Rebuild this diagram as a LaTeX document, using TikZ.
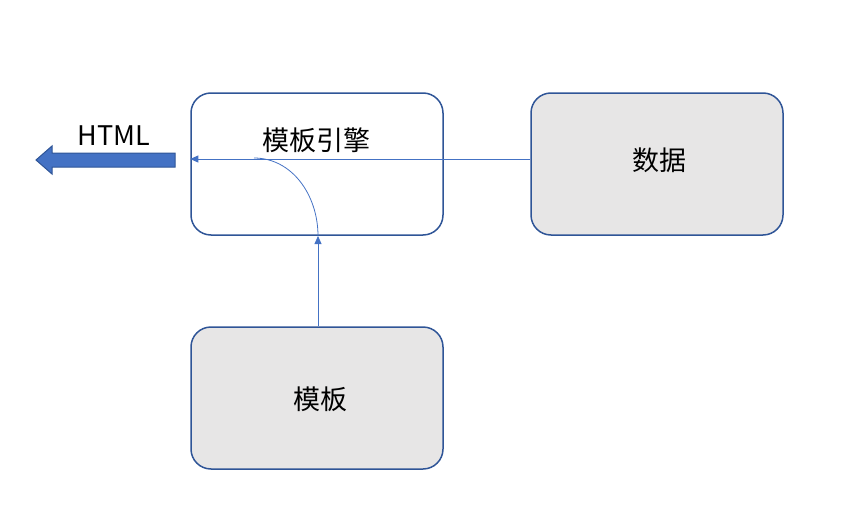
\documentclass[tikz,border=0pt]{standalone}
\usepackage{fontspec}
\setmainfont{Noto Sans CJK SC}
\usetikzlibrary{arrows.meta}
\definecolor{bordc}{HTML}{2F5597}
\definecolor{fillc}{HTML}{E7E6E6}
\definecolor{linec}{HTML}{4472C4}
\begin{document}
\begin{tikzpicture}[x=1pt,y=-1pt,
  box/.style={draw=bordc,line width=1.5pt,rounded corners=20pt,minimum width=252pt,minimum height=142pt,inner sep=0pt},
  conn/.style={draw=linec,line width=0.8pt,-{Triangle[width=7pt,length=8pt]}},
  lbl/.style={font=\fontsize{27}{32}\selectfont}]
\useasboundingbox (0,0) rectangle (855,522);
\node[box] (engine) at (317,164) {};
\node[box,fill=fillc] (data) at (657,164) {};
\node[box,fill=fillc] (tmpl) at (317,398) {};
\node[lbl] (enginet) at (316,140) {模板引擎};
\node[lbl] (datat) at (659,160) {数据};
\node[lbl] (tmplt) at (320,399) {模板};
\node[lbl] (html) at (114,136) {HTML};
\draw[conn] ([yshift=5pt]data.west) -- ([yshift=5pt]engine.west);
\coordinate (arcs) at (254,158);
\coordinate (arce) at (318,236);
\draw[linec,line width=0.8pt] (arcs) .. controls (292,158) and (318,195) .. (arce);
\draw[conn] (tmpl.north -| arce) -- (arce);
\draw[fill=linec,draw=bordc,line width=1pt]
  (175,153) -- (52,153) -- (52,146) -- (36,160) -- (52,174) -- (52,167) -- (175,167) -- cycle;
\end{tikzpicture}
\end{document}
